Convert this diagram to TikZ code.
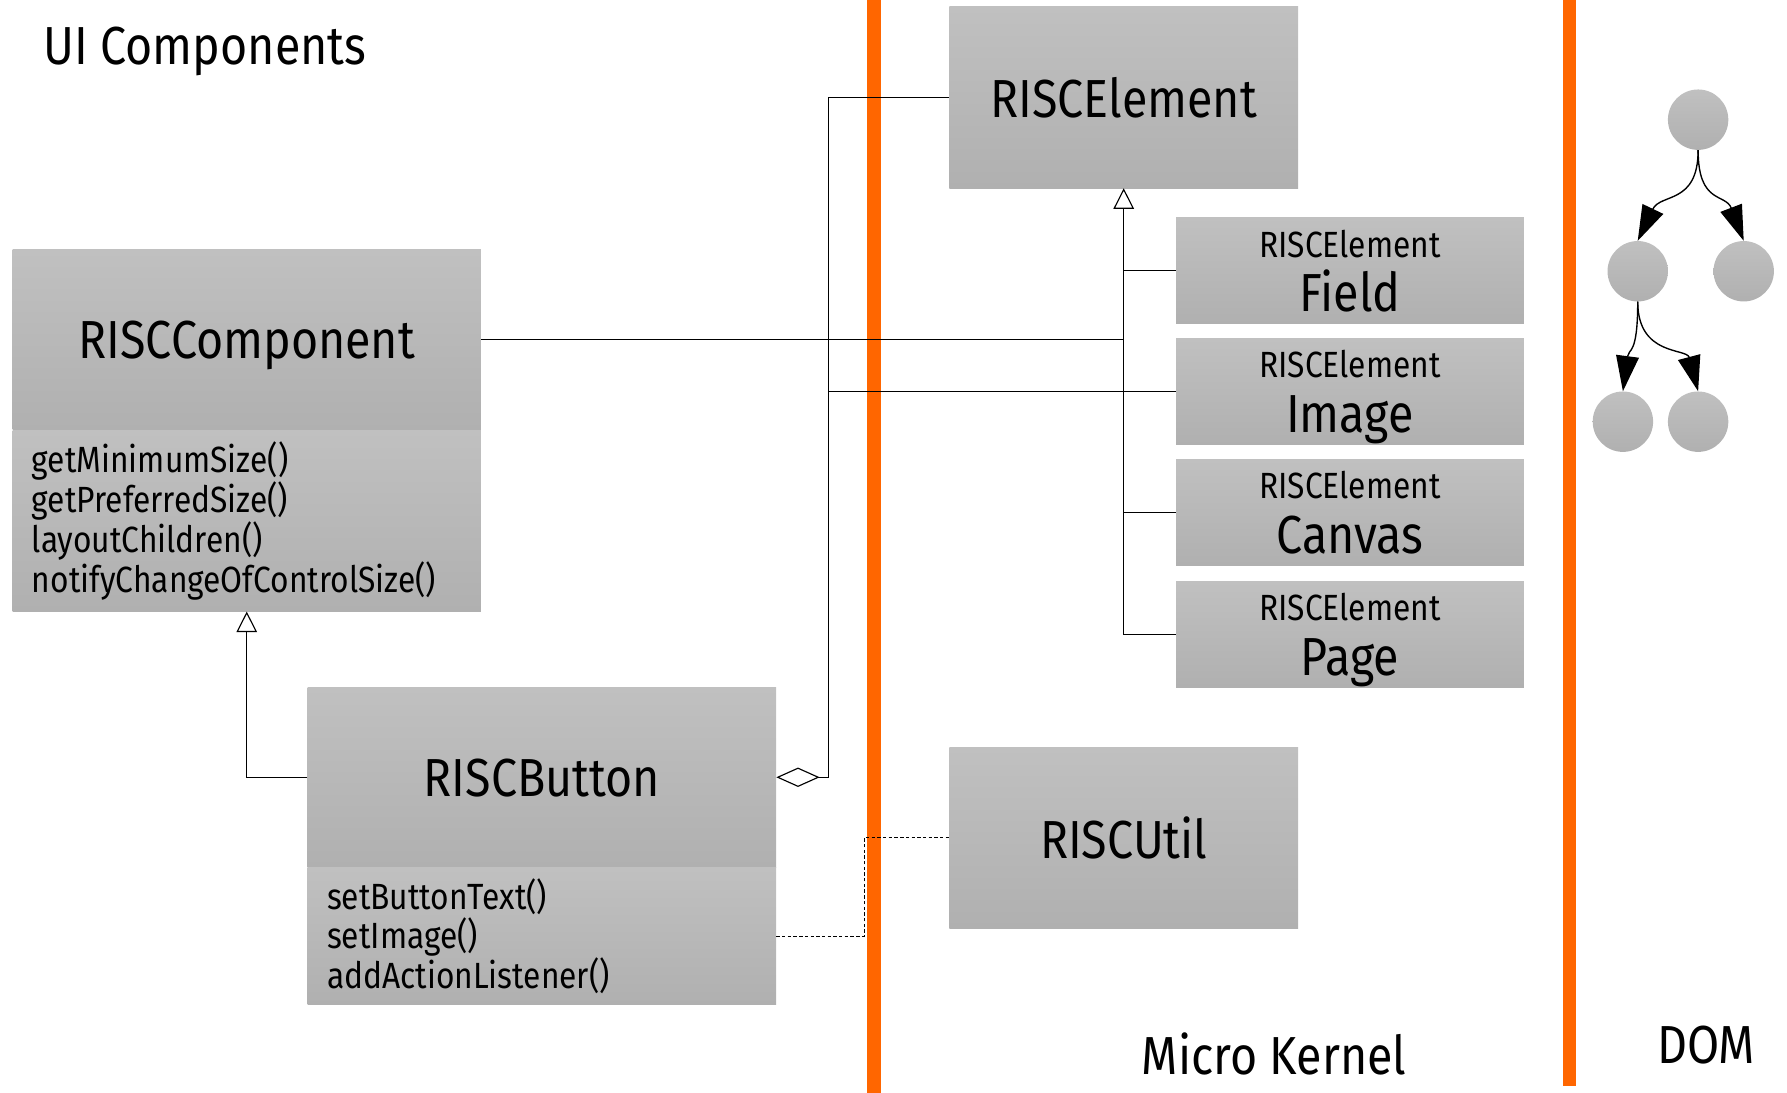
\documentclass[tikz,border=0pt]{standalone}
\usepackage{fontspec}
\setmainfont{Fira Sans}[FakeStretch=0.87]
\usetikzlibrary{arrows.meta}

\definecolor{boxtop}{HTML}{C0C0C0}
\definecolor{boxbot}{HTML}{B0B0B0}
\definecolor{borderline}{HTML}{FF6600}
\newcommand{\bigtxt}{\fontsize{47}{52}\selectfont}
\newcommand{\smalltxt}{\fontsize{32}{35}\selectfont}

\begin{document}
\begin{tikzpicture}[x=1pt, y=-1pt,
    every node/.style={font=\bigtxt, inner sep=0pt},
    box/.style={rectangle, top color=boxtop, bottom color=boxbot},
    title/.style={box, text depth=0pt},
    ops/.style={box, anchor=north, font=\smalltxt, align=left, text width=377pt, minimum width=411pt},
    sub/.style={box, text depth=0pt, minimum width=305pt, minimum height=93pt, align=center},
    ball/.style={circle, minimum size=53pt, top color=boxtop, bottom color=boxbot},
    link/.style={line width=1pt},
    isa/.style={link, -{Triangle[open, length=18pt, width=18pt]}},
    hasa/.style={link, {Diamond[open, length=38pt, width=17pt]}-},
    uses/.style={link, dash pattern=on 3pt off 2pt},
    tree/.style={line width=1.2pt, -{Triangle[length=31pt, width=20pt]}},
    layerline/.style={line width=12pt, draw=borderline}
]
\useasboundingbox (0,0) rectangle (1568,959);

% Layer borders
\draw[layerline] (767,0) -- (767,959);
\draw[layerline] (1377,0) -- (1377,953);

% Layer names
\node[anchor=base west] (ui) at (38,57) {UI Components};
\node[anchor=base] (kernel) at (1118,943) {Micro Kernel};
\node[anchor=base] (dom) at (1497,933) {DOM};

% UI classes
\node[title, minimum width=411pt, minimum height=158pt] (comp) at (216.5,298) {RISCComponent};
\node[ops, minimum height=159pt] (compops) at (comp.south)
    {getMinimumSize()\\getPreferredSize()\\layoutChildren()\\notifyChangeOfControlSize()};

\node[title, minimum width=411pt, minimum height=158pt] (btn) at (475.5,682) {RISCButton};
\node[ops, minimum height=120pt] (btnops) at (btn.south)
    {setButtonText()\\setImage()\\addActionListener()};

% Kernel classes
\node[title, minimum width=306pt, minimum height=159pt] (elem) at (986,85.5) {RISCElement};
\node[title, minimum width=306pt, minimum height=159pt] (util) at (986,735) {RISCUtil};

\foreach \n/\txt/\y in {field/Field/237.5, image/Image/343.5, canvas/Canvas/449.5, page/Page/556.5}
    \node[sub] (\n) at (1184.5,\y) {{\smalltxt RISCElement}\\[-4pt]\txt};

% Inheritance
\draw[isa] (btn.west) -| (compops.south);
\draw[isa] (page.west) -| (elem.south);
\foreach \n in {field,image,canvas}
    \draw[link] (\n.west) -- (\n.west -| elem.south);

% Associations
\draw[link] (comp.east) -- (comp.east -| elem.south);
\draw[hasa] (btn.east) -- ++(46,0) |- (elem.west);
\draw[link] (image.west) -| ([xshift=46pt]btn.east);
\draw[uses] (btnops.east) -- ++(77,0) |- (util.west);

% DOM tree
\node[ball] (root) at (1490,105) {};
\node[ball] (left) at (1437,238) {};
\node[ball] (right) at (1530,238) {};
\node[ball] (leftleft) at (1424,370) {};
\node[ball] (leftright) at (1490,370) {};

\draw[tree] (root.south) .. controls +(0,48) and +(20,-42) .. (left.north);
\draw[tree] (root.south) .. controls +(0,48) and +(-16,-42) .. (right.north);
\draw[tree] (left.south) .. controls +(0,48) and +(5,-38) .. (leftleft.north);
\draw[tree] (left.south) .. controls +(0,48) and +(-10,-38) .. (leftright.north);

\end{tikzpicture}
\end{document}
